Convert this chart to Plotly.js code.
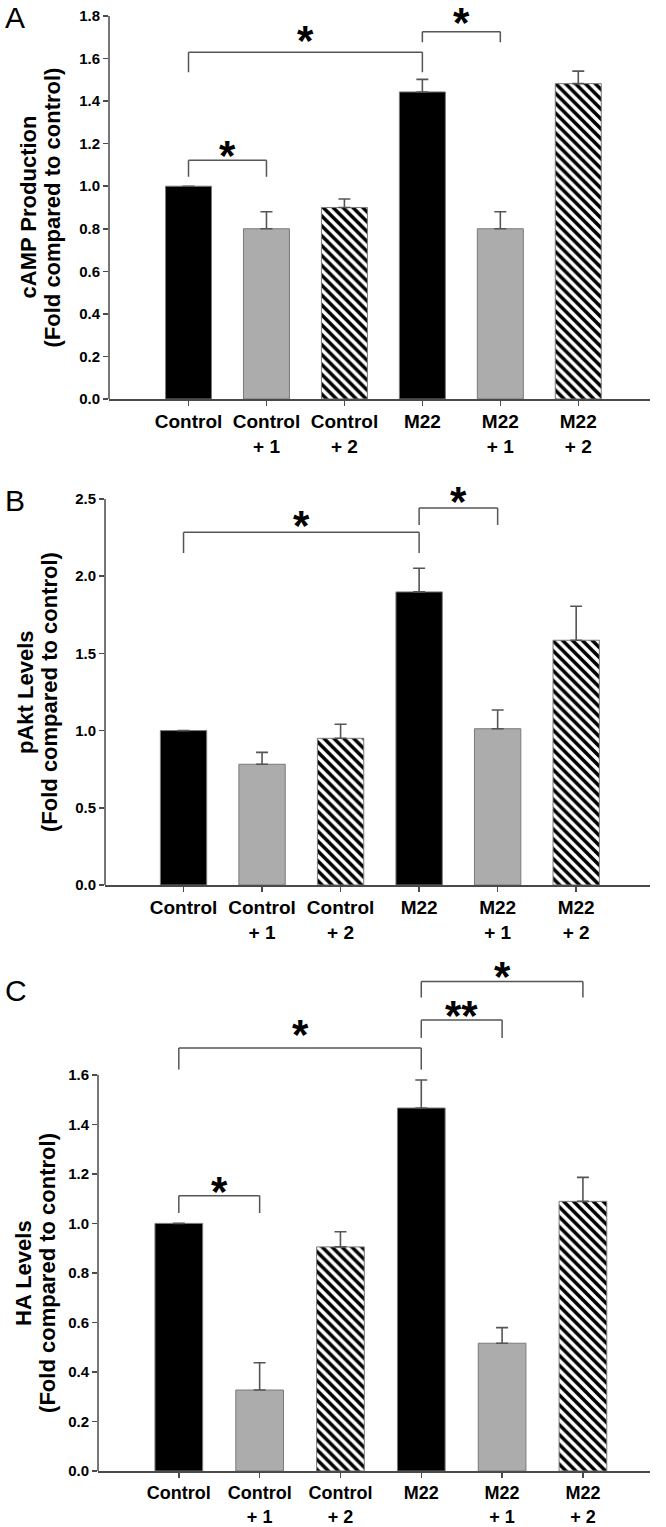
<!DOCTYPE html>
<html>
<head>
<meta charset="utf-8">
<script src="https://cdn.plot.ly/plotly-3.0.1.min.js"></script>
<style>html,body{margin:0;padding:0;background:#fff;}</style>
</head>
<body>
<div id="chart" style="width:666px;height:1527px;"></div>
<script>
// ---------------- data ----------------
const categories = ['Control', 'Control + 1', 'Control + 2', 'M22', 'M22 + 1', 'M22 + 2'];
const tickLabels = ['Control', 'Control<br>+ 1', 'Control<br>+ 2', 'M22', 'M22<br>+ 1', 'M22<br>+ 2'];

const campMean = [1.00, 0.80, 0.90, 1.443, 0.80, 1.482];
const campErr  = [0, 0.08, 0.04, 0.059, 0.08, 0.059];

const paktMean = [1.00, 0.782, 0.950, 1.898, 1.012, 1.585];
const paktErr  = [0, 0.077, 0.091, 0.153, 0.121, 0.220];

const haMean   = [1.00, 0.327, 0.905, 1.466, 0.516, 1.089];
const haErr    = [0, 0.110, 0.061, 0.113, 0.063, 0.097];

const yTicksA = [0, 0.2, 0.4, 0.6, 0.8, 1.0, 1.2, 1.4, 1.6, 1.8];
const yTicksB = [0, 0.5, 1.0, 1.5, 2.0, 2.5];
const yTicksC = [0, 0.2, 0.4, 0.6, 0.8, 1.0, 1.2, 1.4, 1.6];

const titleA = ['cAMP Production', '(Fold compared to control)'];
const titleB = ['pAkt Levels', '(Fold compared to control)'];
const titleC = ['HA Levels', '(Fold compared to control)'];

const bracketsA = [
  {from: 'Control', to: 'Control + 1', level: 1.122, end: 1.044, mark: '*', markAt: 1.178},
  {from: 'Control', to: 'M22',         level: 1.629, end: 1.535, mark: '*', markAt: 1.718},
  {from: 'M22',     to: 'M22 + 1',     level: 1.726, end: 1.677, mark: '*', markAt: 1.800}
];
const bracketsB = [
  {from: 'Control', to: 'M22',     level: 2.284, end: 2.150, mark: '*', markAt: 2.375},
  {from: 'M22',     to: 'M22 + 1', level: 2.442, end: 2.332, mark: '*', markAt: 2.530}
];
const bracketsC = [
  {from: 'Control', to: 'Control + 1', level: 1.112, end: 1.042, mark: '*',  markAt: 1.156},
  {from: 'Control', to: 'M22',         level: 1.708, end: 1.621, mark: '*',  markAt: 1.790},
  {from: 'M22',     to: 'M22 + 1',     level: 1.821, end: 1.749, mark: '**', markAt: 1.867},
  {from: 'M22',     to: 'M22 + 2',     level: 1.977, end: 1.912, mark: '*',  markAt: 2.025}
];

// bar styles: which categories get which fill
const barStyles = [
  {members: ['Control', 'M22'],         color: '#000000', shape: ''},
  {members: ['Control + 1', 'M22 + 1'], color: '#acacac', shape: ''},
  {members: ['Control + 2', 'M22 + 2'], color: '#ffffff', shape: '\\'}
];

// ---------------- layout ----------------
const W = 666, H = 1527;
const FONT = 'Liberation Sans, Arial, Helvetica, sans-serif';
const AX = '#4a4a4a';

const panels = [
  {id: '',  mean: campMean, err: campErr, ticks: yTicksA, range: [0, 1.86], xr: [-1.02, 5.92],
   left: 109, right: 650, top: 3.2, bottom: 399, brackets: bracketsA, letter: 'A', letterY: 18,
   title: titleA, titleX: [28, 52], xfont: 19},
  {id: '2', mean: paktMean, err: paktErr, ticks: yTicksB, range: [0, 2.56], xr: [-1.0, 5.94],
   left: 105, right: 650, top: 489.7, bottom: 885, brackets: bracketsB, letter: 'B', letterY: 500,
   title: titleB, titleX: [26, 50], xfont: 19},
  {id: '3', mean: haMean, err: haErr, ticks: yTicksC, range: [0, 2.05], xr: [-1.0, 5.83],
   left: 98, right: 650, top: 963.4, bottom: 1471, brackets: bracketsC, letter: 'C', letterY: 990,
   title: titleC, titleX: [24, 48], xfont: 18}
];

const traces = [];
const shapes = [];
const annotations = [];
const layout = {
  width: W, height: H,
  margin: {l: 0, r: 0, t: 0, b: 0},
  paper_bgcolor: '#ffffff', plot_bgcolor: 'rgba(0,0,0,0)',
  showlegend: false, bargap: 0.41, barmode: 'overlay',
  font: {family: FONT, color: '#000'}
};

panels.forEach(p => {
  const xa = 'x' + p.id, ya = 'y' + p.id;
  barStyles.forEach(s => {
    const idx = s.members.map(m => categories.indexOf(m));
    const bar = {
      type: 'bar', x: idx.map(i => categories[i]), y: idx.map(i => p.mean[i]),
      xaxis: xa, yaxis: ya,
      marker: {color: s.color, line: {color: '#7a7a7a', width: 1}},
      error_y: {type: 'data', symmetric: false, array: idx.map(i => p.err[i]),
                arrayminus: idx.map(() => 0), color: '#555555', thickness: 1.6, width: 6},
      hoverinfo: 'skip'
    };
    if (s.shape) {
      bar.marker.pattern = {shape: s.shape, fgcolor: '#000000', bgcolor: '#ffffff',
                            size: 7, solidity: 0.5, fillmode: 'replace'};
    }
    traces.push(bar);
  });
  layout['xaxis' + p.id] = {
    domain: [p.left / W, p.right / W], anchor: ya, type: 'category',
    categoryorder: 'array', categoryarray: categories,
    range: p.xr, showgrid: false, zeroline: false, showline: true, linecolor: AX, linewidth: 1.5,
    ticks: 'outside', ticklen: 5, tickwidth: 1.5, tickcolor: AX,
    tickvals: categories, ticktext: tickLabels,
    tickfont: {family: FONT, size: p.xfont, color: '#000', weight: 'bold'}, automargin: false
  };
  layout['yaxis' + p.id] = {
    domain: [1 - p.bottom / H, 1 - p.top / H], anchor: xa,
    range: p.range, showgrid: false, zeroline: false, showline: false,
    ticks: 'outside', ticklen: 5, tickwidth: 1.5, tickcolor: AX,
    tickvals: p.ticks, tickformat: '.1f',
    tickfont: {family: FONT, size: 15, color: '#000', weight: 'bold'}, automargin: false
  };
  // y spine ends at the last labelled tick
  shapes.push({type: 'line', xref: xa + ' domain', yref: ya, x0: 0, x1: 0,
               y0: p.ticks[0], y1: p.ticks[p.ticks.length - 1], line: {color: AX, width: 1.5}});
  p.brackets.forEach(b => {
    const i0 = categories.indexOf(b.from), i1 = categories.indexOf(b.to);
    const ln = {color: '#555555', width: 1.5};
    shapes.push({type: 'line', xref: xa, yref: ya, x0: i0, x1: i0, y0: b.end, y1: b.level, line: ln});
    shapes.push({type: 'line', xref: xa, yref: ya, x0: i0, x1: i1, y0: b.level, y1: b.level, line: ln});
    shapes.push({type: 'line', xref: xa, yref: ya, x0: i1, x1: i1, y0: b.level, y1: b.end, line: ln});
    annotations.push({xref: xa, yref: ya, x: (i0 + i1) / 2, y: b.markAt, text: b.mark,
      showarrow: false, xanchor: 'center', yanchor: 'middle', yshift: -7, borderpad: 0,
      font: {family: FONT, size: 42, color: '#000', weight: 'bold'}});
  });
  annotations.push({xref: 'paper', yref: 'paper', x: 3 / W, y: 1 - p.letterY / H, text: p.letter,
    showarrow: false, xanchor: 'left', yanchor: 'middle',
    font: {family: FONT, size: 30, color: '#000'}});
  const spineTopPx = p.bottom - (p.bottom - p.top) * (p.ticks[p.ticks.length - 1] / p.range[1]);
  p.title.forEach((t, k) => {
    annotations.push({xref: 'paper', yref: 'paper', x: p.titleX[k] / W,
      y: 1 - (p.bottom + spineTopPx) / 2 / H,
      text: t, textangle: -90, showarrow: false, xanchor: 'center', yanchor: 'middle',
      font: {family: FONT, size: 22, color: '#000', weight: 'bold'}});
  });
});
layout.shapes = shapes;
layout.annotations = annotations;

Plotly.newPlot('chart', traces, layout, {staticPlot: true, displayModeBar: false});
</script>
</body>
</html>
